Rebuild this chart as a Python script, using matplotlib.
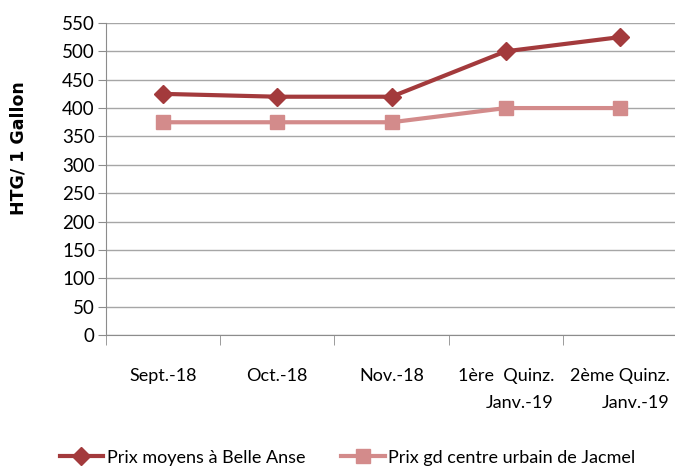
import matplotlib.pyplot as plt
import numpy as np

# data
categories = ["Sept.-18", "Oct.-18", "Nov.-18", "1ère  Quinz.\nJanv.-19", "2ème Quinz.\nJanv.-19"]
belle_anse = [425, 420, 420, 500, 525]
jacmel = [375, 375, 375, 400, 400]
yticks = list(range(0, 551, 50))

plt.rcParams['font.family'] = ['Lato', 'DejaVu Sans']

fig = plt.figure(figsize=(6.75, 4.68), dpi=100)
ax = fig.add_axes([0.157, 0.284, 0.846, 0.667])

x = np.arange(len(categories))
ax.plot(x, jacmel, color='#D38B8B', lw=3, marker='s', ms=10,
        label='Prix gd centre urbain de Jacmel', zorder=3)
ax.plot(x, belle_anse, color='#A33A3C', lw=3, marker='D', ms=9,
        label='Prix moyens à Belle Anse', zorder=4)

ax.set_xlim(-0.5, len(categories) - 0.5)
ax.set_ylim(0, 550)
ax.set_yticks(yticks)
ax.tick_params(axis='y', labelsize=13.5, length=6, color='#8C8C8C', pad=2)
ax.yaxis.grid(True, color='#A6A6A6', lw=1)
ax.set_axisbelow(True)

ax.set_xticks(x)
ax.set_xticklabels(categories, fontsize=13, multialignment='right', linespacing=1.85)
ax.tick_params(axis='x', which='major', length=0, pad=24)
ax.set_xticks(np.arange(-0.5, len(categories)), minor=True)
ax.tick_params(axis='x', which='minor', length=7, color='#8C8C8C')

for s in ['top', 'right']:
    ax.spines[s].set_visible(False)
for s in ['left', 'bottom']:
    ax.spines[s].set_color('#8C8C8C')

ax.set_ylabel('HTG/ 1 Gallon', fontsize=12.5, fontweight='bold',
              family=['DejaVu Sans'])
ax.yaxis.set_label_coords(-0.138, 0.6)

handles, labels = ax.get_legend_handles_labels()
fig.legend(handles[::-1], labels[::-1], loc='center', bbox_to_anchor=(0.515, 0.022),
           ncol=2, frameon=False, fontsize=13, handlelength=2.4, columnspacing=2.0,
           handletextpad=0.2)

fig.savefig('out.png', dpi=100)
